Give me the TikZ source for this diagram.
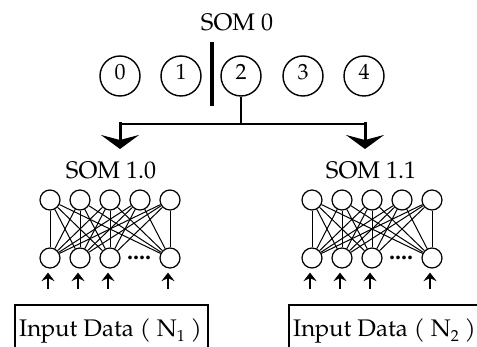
\documentclass[tikz,border=0pt]{standalone}
\usepackage{fontspec}
\setmainfont{TeX Gyre Pagella}
\usetikzlibrary{arrows.meta}
\newcommand\subidx[1]{\raisebox{-5pt}{\fontsize{16}{16}\selectfont #1}}
\begin{document}
\begin{tikzpicture}[x=1pt,y=-1pt,
  lbl/.style={font=\fontsize{24}{24}\selectfont, inner sep=0pt},
  somc/.style={circle, draw, line width=1.4pt, minimum size=40pt, inner sep=0pt, text depth=8pt, font=\fontsize{22}{22}\selectfont},
  neu/.style={circle, draw, line width=1.2pt, minimum size=20pt, inner sep=0pt},
  link/.style={line width=1pt},
  bigarrow/.style={line width=3pt, line cap=rect, -{Stealth[length=14pt,width=38pt,inset=5pt]}},
  inarrow/.style={line width=2.6pt, -{Stealth[length=8.5pt,width=13pt,inset=3pt]}},
  boxline/.style={draw, line width=1.6pt},
  boxtext/.style={font=\fontsize{24}{24}\selectfont, inner sep=0pt, anchor=base west}
]
\useasboundingbox (0,0) rectangle (477,347);
\clip (0,0) rectangle (477,347);

% SOM 0
\node[lbl] (som0) at (237,22) {SOM 0};
\foreach \i/\x in {0/120,1/181,2/241,3/303,4/364}
  \node[somc] (c\i) at (\x,76) {\i};
\draw[line width=4pt] (212,42) -- (212,106);

% branching
\coordinate (j) at (241,124);
\coordinate (jl) at (120,124);
\coordinate (jr) at (365,124);
\coordinate (t1) at (120,149);
\coordinate (t2) at (365,149);
\draw[line width=2pt] (c2) -- (j);
\draw[line width=2pt, line cap=rect] (jl) -- (jr);
\draw[bigarrow] (jl) -- (t1);
\draw[bigarrow] (jr) -- (t2);

\node[lbl] (som10) at (111,170) {SOM 1.0};
\node[lbl] (som11) at (371,170) {SOM 1.1};

% networks
\foreach \n/\ox in {A/0,B/262}{
  \foreach \i in {1,...,5}
    \node[neu] (\n-t\i) at (20+30*\i+\ox,200) {};
  \foreach \j in {1,2,3,5}
    \node[neu] (\n-b\j) at (20+30*\j+\ox,258) {};
  \node[lbl, anchor=base] (\n-dots) at (139+\ox,260) {\textbf{....}};
  \foreach \i in {1,...,5}
    \foreach \j in {1,2,3,5}
      \draw[link] (\n-t\i) -- (\n-b\j);
  \foreach \j in {1,2,3,5}
    \draw[inarrow] ([xshift=-2pt,yshift=-20pt]\n-b\j.south) -- ([xshift=-2pt,yshift=-4pt]\n-b\j.south);
}

% input boxes
\coordinate (b1nw) at (15,305);
\coordinate (b1se) at (208,362);
\coordinate (b2nw) at (289,305);
\coordinate (b2se) at (490,362);
\draw[boxline] (b1nw) rectangle (b1se);
\draw[boxline] (b2nw) rectangle (b2se);
\node[boxtext] (in1) at (19,337) {Input Data ( N\subidx{1} )};
\node[boxtext] (in2) at (293,337) {Input Data ( N\subidx{2} )};
\end{tikzpicture}
\end{document}
